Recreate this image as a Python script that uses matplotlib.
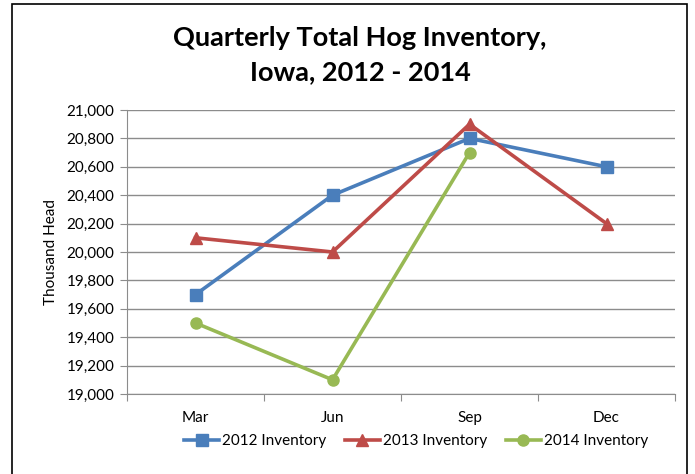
import matplotlib
matplotlib.use('Agg')
import matplotlib.pyplot as plt
from matplotlib.patches import Rectangle
from matplotlib.ticker import FuncFormatter, FixedLocator

# data (thousand head)
quarters = ['Mar', 'Jun', 'Sep', 'Dec']
inv_2012 = [19700, 20400, 20800, 20600]
inv_2013 = [20100, 20000, 20900, 20200]
inv_2014 = [19500, 19100, 20700]

plt.rcParams['font.family'] = ['Lato', 'DejaVu Sans']

fig = plt.figure(figsize=(6.95, 4.74), dpi=100)
ax = fig.add_axes([127/695, 1-394/474, (675-127)/695, (394-110)/474])

# outer frame of the chart
fig.patches.append(Rectangle((12/695, -0.02), (687-12)/695, 1.02-4/474,
                             transform=fig.transFigure, fill=False,
                             edgecolor='black', linewidth=1.2))

x = list(range(len(quarters)))
ax.plot(x, inv_2012, color='#4A7EBB', lw=2.6, marker='s', ms=8, label='2012 Inventory')
ax.plot(x, inv_2013, color='#BE4B48', lw=2.6, marker='^', ms=9, label='2013 Inventory')
ax.plot(x[:len(inv_2014)], inv_2014, color='#98B954', lw=2.6, marker='o', ms=8, label='2014 Inventory')

ax.set_xlim(-0.5, 3.5)
ax.set_ylim(19000, 21000)
ax.set_yticks(range(19000, 21001, 200))
ax.yaxis.set_major_formatter(FuncFormatter(lambda v, p: '{:,.0f}'.format(v)))
ax.grid(axis='y', color='#8C8C8C', linewidth=1)
ax.set_axisbelow(True)

ax.xaxis.set_major_locator(FixedLocator([-0.5, 0.5, 1.5, 2.5, 3.5]))
ax.xaxis.set_minor_locator(FixedLocator(x))
ax.set_xticklabels([])
ax.set_xticklabels(quarters, minor=True)
ax.tick_params(axis='x', which='major', length=5, color='#8C8C8C')
ax.tick_params(axis='x', which='minor', length=0, pad=12, labelsize=11)
ax.tick_params(axis='y', length=5, color='#8C8C8C', labelsize=11, pad=4)

for s in ['top', 'right']:
    ax.spines[s].set_visible(False)
for s in ['left', 'bottom']:
    ax.spines[s].set_color('#8C8C8C')

ax.set_ylabel('Thousand Head', fontsize=11, labelpad=6)

fig.text(0.518, 0.92, 'Quarterly Total Hog Inventory,', ha='center', va='center',
         fontsize=19.5, fontweight='bold')
fig.text(0.518, 0.848, 'Iowa, 2012 - 2014', ha='center', va='center',
         fontsize=19.5, fontweight='bold')

ax.legend(loc='center', bbox_to_anchor=(416/695, 1-441/474), bbox_transform=fig.transFigure,
          ncol=3, frameon=False, fontsize=11, handlelength=2.3, columnspacing=1.2,
          handletextpad=0.2)

fig.savefig('out.png', dpi=100, facecolor='white')
